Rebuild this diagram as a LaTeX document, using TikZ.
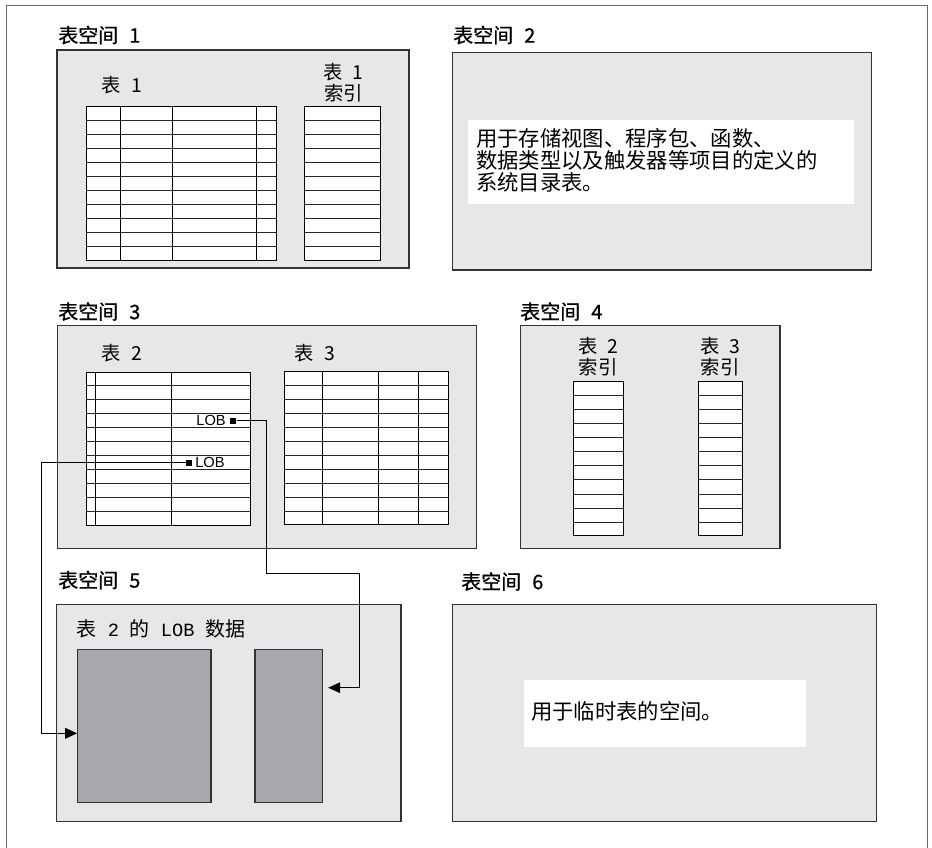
\documentclass[tikz,border=0pt]{standalone}
\usepackage{fontspec}
\setmainfont{Noto Sans CJK SC}
\newfontfamily\titlefont[FakeBold=0.8]{Noto Sans CJK SC}
\newfontfamily\lobfont{Liberation Sans}
\newfontfamily\latmono{Liberation Mono}
\usetikzlibrary{fit,arrows.meta,calc}
\definecolor{tsgray}{HTML}{E6E7E8}
\definecolor{lobgray}{HTML}{A7A8AB}
\definecolor{framegray}{HTML}{6A6A6A}
\tikzset{
  tsbox/.style={draw=black!80, line width=0.8pt, fill=tsgray, inner sep=0pt},
  whitebox/.style={fill=white, draw=none, inner sep=0pt},
  tbl/.style={draw=black, line width=0.7pt, fill=white, inner sep=0pt},
  rowline/.style={draw=black!85, line width=0.6pt},
  colline/.style={draw=black, line width=0.7pt},
  lobbox/.style={draw=black!80, line width=0.8pt, fill=lobgray, inner sep=0pt},
  ttl/.style={anchor=west, font=\titlefont\fontsize{15}{18}\selectfont, inner sep=0pt},
  lbl/.style={font=\fontsize{14.5}{16}\selectfont, inner sep=0pt},
  desc/.style={anchor=west, align=left, font=\fontsize{16}{16.4}\selectfont, inner sep=0pt},
  conn/.style={draw=black, line width=0.75pt, -{Triangle[length=9pt,width=8pt]}},
  lobsq/.style={fill=black, draw=none, minimum size=4.5pt, inner sep=0pt},
  lobtxt/.style={font=\lobfont\fontsize{11}{13}\selectfont, inner sep=0pt}
}
\newcommand\rowgrid[1]{\foreach \k in {1,...,10}{\draw[rowline] ($(#1.north west)!\k/11!(#1.south west)$) -- ($(#1.north east)!\k/11!(#1.south east)$);}}
\begin{document}
\begin{tikzpicture}[x=0.75pt,y=-0.75pt]
\useasboundingbox (0,0) rectangle (932,847);
% outer frame
\draw[framegray, line width=0.9pt] (6.7,860) -- (6.7,5.7) -- (927.5,5.7) -- (927.5,860);

% ---------- Tablespace 1
\node[ttl] (h1) at (58,35) {表空间\hspace{0.55em}1};
\node[tsbox, fit={(57,50) (409,268)}] (ts1) {};
\node[lbl, anchor=west] (l1) at (101,85) {表\hspace{0.55em}1};
\node[lbl, align=center] (li1) at (343.5,82.5) {表\hspace{0.5em}1\\索引};
\node[tbl, fit={(86.7,106.7) (276.7,260)}] (t1) {};
\rowgrid{t1}
\foreach \x in {120.3,172.3,256.7}{\draw[colline] (\x,106.7) -- (\x,260);}
\node[tbl, fit={(304,106.7) (380,260)}] (i1) {};
\rowgrid{i1}

% ---------- Tablespace 2
\node[ttl] (h2) at (453,35) {表空间\hspace{0.55em}2};
\node[tsbox, fit={(452.3,52.7) (871.5,270)}] (ts2) {};
\node[whitebox, fit={(468.3,120) (854,203.7)}] (w2) {};
\node[desc] (d2) at (476,160) {用于存储视图、程序包、函数、\\数据类型以及触发器等项目的定义的\\系统目录表。};

% ---------- Tablespace 3
\node[ttl] (h3) at (58,311.5) {表空间\hspace{0.55em}3};
\node[tsbox, fit={(57.3,325.7) (476.7,548.7)}] (ts3) {};
\node[lbl, anchor=west] (l2) at (101,353.3) {表\hspace{0.55em}2};
\node[lbl, anchor=west] (l3) at (294,353.3) {表\hspace{0.55em}3};
\node[tbl, fit={(86.7,372.3) (250.3,525)}] (t2) {};
\rowgrid{t2}
\foreach \x in {95.7,171.7}{\draw[colline] (\x,372.3) -- (\x,525);}
\node[tbl, fit={(284.7,371.7) (448.7,524.7)}] (t3) {};
\rowgrid{t3}
\foreach \x in {322.3,378,418.3}{\draw[colline] (\x,371.7) -- (\x,524.7);}
% LOB markers
\node[lobtxt, anchor=east] (lobAt) at (226,420.7) {LOB};
\node[lobsq] (lobA) at (233.3,420.7) {};
\node[lobsq] (lobC) at (189,462.7) {};
\node[lobtxt, anchor=west] (lobCt) at (195,462.7) {LOB};

% ---------- Tablespace 4
\node[ttl] (h4) at (520,311.5) {表空间\hspace{0.55em}4};
\node[tsbox, fit={(520.7,325.7) (780,548.3)}] (ts4) {};
\node[lbl, align=center] (li2) at (598,356.5) {\fontsize{14.5}{12.8}\selectfont 表\hspace{0.5em}2\\索引};
\node[lbl, align=center] (li3) at (720,356.5) {\fontsize{14.5}{12.8}\selectfont 表\hspace{0.5em}3\\索引};
\node[tbl, fit={(573.3,381.7) (623.3,535.7)}] (i2) {};
\rowgrid{i2}
\node[tbl, fit={(698.3,381.7) (742.7,535.7)}] (i3) {};
\rowgrid{i3}

% ---------- Tablespace 5
\node[ttl] (h5) at (58,580) {表空间\hspace{0.55em}5};
\node[tsbox, fit={(56.7,604.3) (401,821.7)}] (ts5) {};
\node[anchor=west, inner sep=0pt, font=\fontsize{15}{18}\selectfont] (l5) at (76.5,629.3)
  {表\hspace{8.25pt}{\latmono\fontsize{14}{16}\selectfont 2}\hspace{8.25pt}的\hspace{8.25pt}{\latmono\fontsize{14}{16}\selectfont LOB}\hspace{8.25pt}数据};
\node[lobbox, fit={(77.7,649.3) (211,802.7)}] (big) {};
\node[lobbox, fit={(255,649.3) (322.3,802.7)}] (small) {};

% ---------- Tablespace 6
\node[ttl] (h6) at (461,581.5) {表空间\hspace{0.55em}6};
\node[tsbox, fit={(452.7,604.3) (876.7,821.7)}] (ts6) {};
\node[whitebox, fit={(524,680) (806,746.7)}] (w6) {};
\node[desc] (d6) at (531,711.7) {用于临时表的空间。};

% ---------- connectors
\draw[conn, shorten >=4pt] (lobA.east) -| (266,573.3) -| (359.3,687.7) -- (small.east |- 0,687.7);
\draw[conn] (lobC.west) -| (41.7,733.3) -- (big.west |- 0,733.3);
\end{tikzpicture}
\end{document}
